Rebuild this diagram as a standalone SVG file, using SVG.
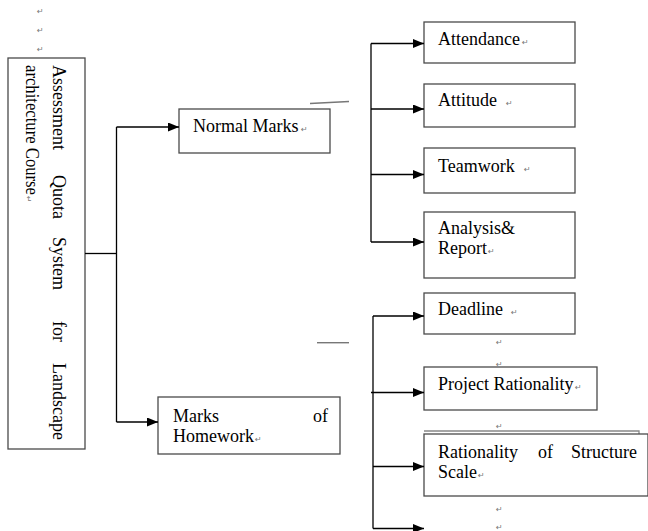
<svg xmlns="http://www.w3.org/2000/svg" width="648" height="531" viewBox="0 0 648 531">
<style>
.box{fill:#fff;stroke:#4a4a4a;stroke-width:1.3}
.t{font-family:"Liberation Serif","Times New Roman",serif;font-size:18px;fill:#000}
.rm{font-family:"DejaVu Sans",sans-serif;font-size:8px;fill:#777}
.ln{fill:none;stroke:#000;stroke-width:1.3}
.gl{fill:none;stroke:#777;stroke-width:1.4}
</style>
<defs>
<marker id="ah" markerUnits="userSpaceOnUse" markerWidth="12" markerHeight="10" refX="11" refY="4.5" orient="auto">
<path d="M0,0 L11,4.5 L0,9 Z" fill="#000"/>
</marker>
</defs>
<g id="marks-top">
<text class="rm" x="37" y="14">↵</text>
<text class="rm" x="37" y="33">↵</text>
<text class="rm" x="37" y="52">↵</text>
</g>
<g id="root">
<rect class="box" x="8" y="58" width="77" height="391"/>
<g transform="rotate(90)">
<text class="t" y="-53"><tspan x="65">Assessment</tspan><tspan x="175">Quota</tspan><tspan x="237">System</tspan><tspan x="321">for</tspan><tspan x="440" text-anchor="end">Landscape</tspan></text>
<text class="t" x="65" y="-26" textLength="130" lengthAdjust="spacingAndGlyphs">architecture Course</text>
<text class="rm" x="196" y="-26">↵</text>
</g>
</g>
<g id="normal-marks">
<rect class="box" x="179" y="109" width="151" height="44"/>
<text class="t" x="193" y="132">Normal Marks</text>
<text class="rm" x="301" y="132">↵</text>
</g>
<g id="homework">
<rect class="box" x="158" y="397" width="182" height="57"/>
<text class="t" x="173" y="422">Marks</text>
<text class="t" x="328" y="422" text-anchor="end">of</text>
<text class="t" x="173" y="442">Homework</text>
<text class="rm" x="255" y="442">↵</text>
</g>
<g id="attendance">
<rect class="box" x="424" y="22" width="151" height="41"/>
<text class="t" x="438" y="45">Attendance</text>
<text class="rm" x="522" y="45">↵</text>
</g>
<g id="attitude">
<rect class="box" x="424" y="84" width="151" height="43"/>
<text class="t" x="438" y="106">Attitude</text>
<text class="rm" x="506" y="106">↵</text>
</g>
<g id="teamwork">
<rect class="box" x="424" y="148" width="151" height="45"/>
<text class="t" x="438" y="172">Teamwork</text>
<text class="rm" x="524" y="172">↵</text>
</g>
<g id="analysis">
<rect class="box" x="424" y="212" width="151" height="66"/>
<text class="t" x="438" y="234">Analysis&amp;</text>
<text class="t" x="438" y="254">Report</text>
<text class="rm" x="488" y="254">↵</text>
</g>
<g id="deadline">
<rect class="box" x="424" y="293" width="151" height="41"/>
<text class="t" x="438" y="315">Deadline</text>
<text class="rm" x="511" y="315">↵</text>
<text class="rm" x="496" y="345">↵</text>
<text class="rm" x="496" y="367">↵</text>
</g>
<g id="project-rationality">
<rect class="box" x="424" y="367" width="173" height="43"/>
<text class="t" x="438" y="390">Project Rationality</text>
<text class="rm" x="575" y="390">↵</text>
<text class="rm" x="496" y="429">↵</text>
</g>
<g id="structure-scale">
<path d="M424,431 H639 V434" fill="none" stroke="#888" stroke-width="1.3"/>
<rect class="box" x="424" y="434" width="224" height="62" stroke="#222"/>
<text class="t" x="438" y="458">Rationality</text>
<text class="t" x="538" y="458">of</text>
<text class="t" x="637" y="458" text-anchor="end">Structure</text>
<text class="t" x="438" y="478">Scale</text>
<text class="rm" x="478" y="478">↵</text>
<text class="rm" x="496" y="512">↵</text>
<text class="rm" x="496" y="530">↵</text>
</g>
<g id="connectors">
<path class="ln" d="M85,253.5 H116.5"/>
<path class="ln" d="M116.5,127 V422"/>
<path class="ln" d="M116.5,127 H179" marker-end="url(#ah)"/>
<path class="ln" d="M116.5,422 H158" marker-end="url(#ah)"/>
<path class="ln" d="M371,43.5 V242"/>
<path class="ln" d="M371,43.5 H424" marker-end="url(#ah)"/>
<path class="ln" d="M371,109 H424" marker-end="url(#ah)"/>
<path class="ln" d="M371,174.5 H424" marker-end="url(#ah)"/>
<path class="ln" d="M371,242 H424" marker-end="url(#ah)"/>
<path class="ln" d="M373,316 V528.5"/>
<path class="ln" d="M373,316 H424" marker-end="url(#ah)"/>
<path class="ln" d="M371,392.5 H424" marker-end="url(#ah)"/>
<path class="ln" d="M373,466.5 H424" marker-end="url(#ah)"/>
<path class="ln" d="M373,528.5 H424" marker-end="url(#ah)"/>
<path class="gl" d="M310,103.5 L349,101.5"/>
<path class="gl" d="M317,342.7 H349"/>
</g>
</svg>
